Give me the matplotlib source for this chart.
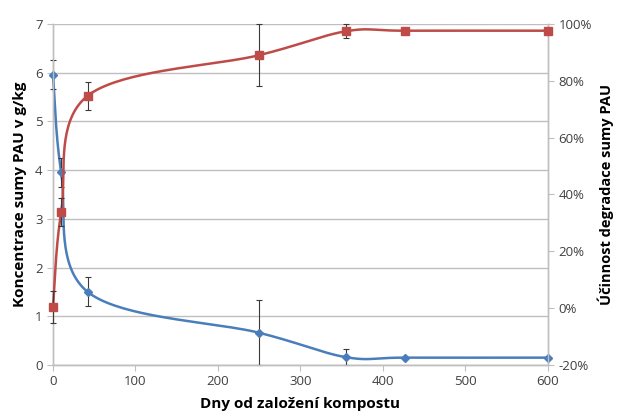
import numpy as np
import matplotlib
matplotlib.use("Agg")
import matplotlib.pyplot as plt
from matplotlib.ticker import FuncFormatter

# data
days = [0, 10, 42, 250, 355, 427, 600]
conc = [5.96, 3.95, 1.50, 0.66, 0.16, 0.15, 0.15]
conc_err = [0.30, 0.30, 0.30, 0.67, 0.16, 0.0, 0.0]
eff = [0.4, 33.8, 74.7, 89.0, 97.4, 97.6, 97.6]
eff_err = [5.5, 5.0, 5.0, 11.0, 2.5, 0.0, 0.0]

BLUE = "#4A7EBB"
RED = "#BE4B48"
GRID = "#BFBFBF"
TXT = "#404040"

plt.rcParams['font.family'] = ['Open Sans', 'DejaVu Sans']


def smooth(x, y, xr, yr, n=40):
    # Catmull-Rom through points, done in normalised axis space (like Excel smoothing)
    px = (np.asarray(x, float) - xr[0]) / (xr[1] - xr[0])
    py = (np.asarray(y, float) - yr[0]) / (yr[1] - yr[0]) * 0.69
    pts = np.column_stack([px, py])
    pts = np.vstack([pts[0], pts, pts[-1]])
    out = []
    for i in range(1, len(pts) - 2):
        p0, p1, p2, p3 = pts[i - 1], pts[i], pts[i + 1], pts[i + 2]
        c1 = p1 + (p2 - p0) / 6
        c2 = p2 - (p3 - p1) / 6
        t = np.linspace(0, 1, n)[:, None]
        seg = (1 - t) ** 3 * p1 + 3 * (1 - t) ** 2 * t * c1 + 3 * (1 - t) * t ** 2 * c2 + t ** 3 * p2
        out.append(seg)
    out = np.vstack(out)
    sx = out[:, 0] * (xr[1] - xr[0]) + xr[0]
    sy = out[:, 1] / 0.69 * (yr[1] - yr[0]) + yr[0]
    return sx, sy


fig = plt.figure(figsize=(6.19, 4.19), dpi=100)
ax = fig.add_axes([0.0856, 0.129, 0.7997, 0.814])
ax2 = ax.twinx()

xr = (0, 600)
sx, sy = smooth(days, conc, xr, (0, 7))
ax.plot(sx, sy, color=BLUE, lw=1.8, zorder=3, clip_on=False)
ax.errorbar(days, conc, yerr=conc_err, fmt="none", ecolor="#3a3a3a",
            elinewidth=0.8, capsize=2.5, capthick=0.8, zorder=4, clip_on=False)
ax.plot(days, conc, linestyle="none", marker="D", ms=4, color=BLUE, zorder=5, clip_on=False)

sx2, sy2 = smooth(days, eff, xr, (-20, 100))
ax2.plot(sx2, sy2, color=RED, lw=1.8, zorder=3, clip_on=False)
ax2.errorbar(days, eff, yerr=eff_err, fmt="none", ecolor="#3a3a3a",
             elinewidth=0.8, capsize=2.5, capthick=0.8, zorder=4, clip_on=False)
ax2.plot(days, eff, linestyle="none", marker="s", ms=6, color=RED, zorder=5, clip_on=False)

ax.set_xlim(0, 600)
ax.set_ylim(0, 7)
ax2.set_ylim(-20, 100)
ax.set_xticks(range(0, 601, 100))
ax.set_yticks(range(0, 8))
ax2.set_yticks(range(-20, 101, 20))
ax2.yaxis.set_major_formatter(FuncFormatter(lambda v, p: f"{v:.0f}%"))

ax.grid(axis="y", color=GRID, lw=1.0)
ax.set_axisbelow(True)

for a in (ax, ax2):
    a.spines["top"].set_visible(False)
    for s in ("left", "right", "bottom"):
        a.spines[s].set_color(GRID)
        a.spines[s].set_linewidth(1.0)
    a.tick_params(colors=GRID, labelcolor=TXT, labelsize=9.5, length=4, width=0.8)

ax.set_xlabel("Dny od založení kompostu", fontsize=11, fontweight="bold", color="black", labelpad=6)
ax.set_ylabel("Koncentrace sumy PAU v g/kg", fontsize=11, fontweight="bold", color="black", labelpad=6)
ax2.set_ylabel("Účinnost degradace sumy PAU", fontsize=10.5, fontweight="bold", color="black", labelpad=4)

fig.savefig("out.png", dpi=100)
